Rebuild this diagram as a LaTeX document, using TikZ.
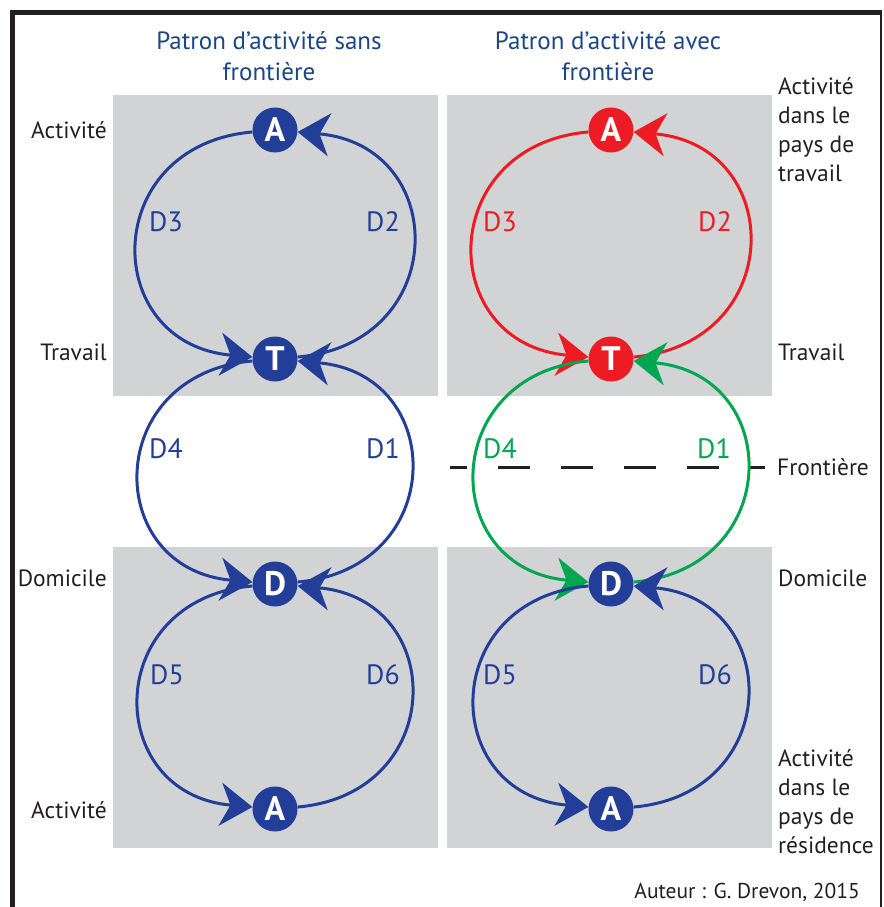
\documentclass[tikz,border=0pt]{standalone}
\usepackage{fontspec}
\setmainfont{PT Sans}
\usetikzlibrary{arrows.meta}
\definecolor{bleu}{RGB}{35,62,152}
\definecolor{rouge}{RGB}{237,28,36}
\definecolor{vert}{RGB}{0,166,80}
\definecolor{gris}{RGB}{209,211,212}
\definecolor{titre}{RGB}{26,70,136}
\definecolor{texte}{RGB}{35,31,32}
\begin{document}
\begin{tikzpicture}[x=1pt,y=1pt,
    lieu/.style={circle,fill=#1,text=white,inner sep=0pt,minimum size=45pt,
      font=\fontsize{34}{34}\selectfont\bfseries},
    trajet/.style={draw=#1,line width=3pt,looseness=1.75,
      -{Stealth[length=32pt,width=43pt,inset=10pt]}},
    dlab/.style={text=#1,font=\fontsize{28}{28}\selectfont},
    etiq/.style={text=texte,align=left,inner sep=0pt,font=\fontsize{23.5}{29}\selectfont},
    titrebox/.style={text=titre,align=center,font=\fontsize{25}{31}\selectfont}]
  \useasboundingbox (0,0) rectangle (883,-907);
  % cadre
  \draw[texte,line width=5pt] (12,-907) -- (12,-12.5) -- (882,-12.5);
  \draw[texte,line width=2pt] (881,-12.5) -- (881,-907);
  % zones grises
  \foreach \x/\y in {113/95, 447/95, 113/547, 447/547}{
    \fill[gris] (\x,-\y) rectangle ++(325,-301);
  }
  % frontiere
  \coordinate (F1) at (450,-467);
  \coordinate (F2) at (765,-467);
  \draw[texte,line width=3pt,dash pattern=on 32pt off 31pt,dash phase=15pt] (F1) -- (F2);
  % lieux
  \foreach \n/\x/\y/\t/\c in {Ag/275/130/A/bleu, Tg/275/359/T/bleu, Dg/275/584/D/bleu, Rg/275/809/A/bleu,
      Ad/611/130/A/rouge, Td/611/359/T/rouge, Dd/611/584/D/bleu, Rd/611/809/A/bleu}{
    \node[lieu=\c] (\n) at (\x,-\y) {\t};
  }
  % trajets, cote gauche (descente)
  \foreach \a/\b/\c in {Ag/Tg/bleu, Tg/Dg/bleu, Dg/Rg/bleu, Ad/Td/rouge, Td/Dd/vert, Dd/Rd/bleu}{
    \draw[trajet=\c] (\a) to[out=185,in=175] (\b);
  }
  % trajets, cote droit (montee)
  \foreach \a/\b/\c in {Tg/Ag/bleu, Dg/Tg/bleu, Rg/Dg/bleu, Td/Ad/rouge, Dd/Td/vert, Rd/Dd/bleu}{
    \draw[trajet=\c] (\a) to[out=5,in=355] (\b);
  }
  % etiquettes des deplacements
  \foreach \x/\y/\t/\c in {166/222/3/bleu, 383/222/2/bleu, 166/449/4/bleu, 383/449/1/bleu,
      167/675/5/bleu, 383/675/6/bleu}{
    \node[dlab=\c] (gD\t) at (\x,-\y) {D\t};
  }
  \foreach \x/\y/\t/\c in {500/222/3/rouge, 715/222/2/rouge, 500/449/4/vert, 714/449/1/vert,
      500/675/5/bleu, 715/675/6/bleu}{
    \node[dlab=\c] (dD\t) at (\x,-\y) {D\t};
  }
  % titres
  \node[titrebox] (titreG) at (269,-56) {Patron d’activité sans\\frontière};
  \node[titrebox] (titreD) at (608,-56) {Patron d’activité avec\\frontière};
  % etiquettes a gauche
  \foreach \y/\t [count=\i] in {138/Activité, 360/Travail, 586/Domicile, 818/Activité}{
    \node[etiq,anchor=base east] (gauche\i) at (107,-\y) {\t};
  }
  % etiquettes a droite
  \node[etiq,anchor=west] (droite1) at (778,-130) {Activité\\dans le\\pays de\\travail};
  \node[etiq,anchor=base west] (droite2) at (778,-360) {Travail};
  \node[etiq,anchor=base west] (droite3) at (777,-475) {Frontière};
  \node[etiq,anchor=base west] (droite4) at (778,-586) {Domicile};
  \node[etiq,anchor=west] (droite5) at (778,-802) {Activité\\dans le\\pays de\\résidence};
  \node[text=texte,anchor=base east,inner sep=0pt,font=\fontsize{21.5}{21.5}\selectfont] (auteur) at (860,-898) {Auteur : G. Drevon, 2015};
\end{tikzpicture}
\end{document}
